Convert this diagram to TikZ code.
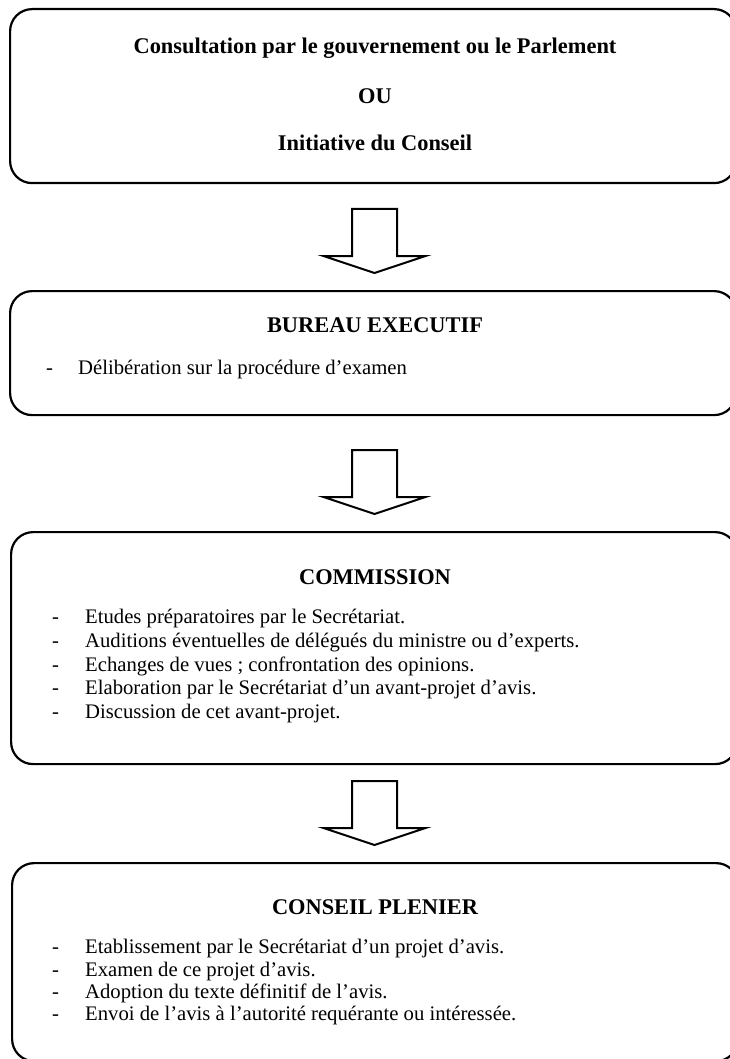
\documentclass[tikz,border=0pt]{standalone}
\usepackage{fontspec}
\setmainfont{Liberation Serif}
\usetikzlibrary{calc}
\begin{document}
\begin{tikzpicture}[x=1pt,y=-1pt,
  box/.style={draw, line width=2.2pt, rounded corners=22pt, anchor=north west, inner sep=0pt},
  ttl/.style={anchor=base, font=\fontsize{22.4}{26}\selectfont\bfseries, inner sep=0pt},
  itm/.style={anchor=base west, font=\fontsize{20.7}{23.7}\selectfont, inner sep=0pt},
  barrow/.style={draw, line width=2pt, fill=white, line join=miter}]
\useasboundingbox (0,0) rectangle (730,1059);
\clip (0,0) rectangle (730,1059);
% boxes
\node[box, minimum width=726pt, minimum height=174pt] (b1) at (9,8) {};
\node[box, minimum width=726pt, minimum height=124pt] (b2) at (9,290) {};
\node[box, minimum width=726pt, minimum height=232pt] (b3) at (10,531) {};
\node[box, minimum width=726pt, minimum height=198pt] (b4) at (11,862) {};
% box 1
\node[ttl] (t1a) at (375,54) {Consultation par le gouvernement ou le Parlement};
\node[ttl] (t1b) at (375,104) {OU};
\node[ttl] (t1c) at (375,151) {Initiative du Conseil};
% box 2
\node[ttl] (t2) at (375,332) {BUREAU EXECUTIF};
\node[itm] (d2a) at (46,374) {-};
\node[itm] (i2a) at (78,374) {Délibération sur la procédure d’examen};
% box 3
\node[ttl] (t3) at (375,584) {COMMISSION};
\foreach \y/\t [count=\k] in {623/{Etudes préparatoires par le Secrétariat.},
  647/{Auditions éventuelles de délégués du ministre ou d’experts.},
  671/{Echanges de vues ; confrontation des opinions.},
  694/{Elaboration par le Secrétariat d’un avant-projet d’avis.},
  718/{Discussion de cet avant-projet.}}{
  \node[itm] (d3\k) at (52,\y) {-};
  \node[itm] (i3\k) at (85,\y) {\t};
}
% box 4
\node[ttl] (t4) at (375,914) {CONSEIL PLENIER};
\foreach \y/\t [count=\k] in {953/{Etablissement par le Secrétariat d’un projet d’avis.},
  976/{Examen de ce projet d’avis.},
  998/{Adoption du texte définitif de l’avis.},
  1020/{Envoi de l’avis à l’autorité requérante ou intéressée.}}{
  \node[itm] (d4\k) at (52,\y) {-};
  \node[itm] (i4\k) at (85,\y) {\t};
}
% block arrows
\coordinate (a1) at (374.5,209);
\coordinate (a2) at (374.5,450);
\coordinate (a3) at (374.5,781);
\foreach \a in {a1,a2,a3}{
  \draw[barrow] ($(\a)+(-22.5,0)$) -- ($(\a)+(-22.5,47)$) -- ($(\a)+(-51,47)$)
    -- ($(\a)+(0,64)$) -- ($(\a)+(51,47)$) -- ($(\a)+(22.5,47)$)
    -- ($(\a)+(22.5,0)$) -- cycle;
}
\end{tikzpicture}
\end{document}
